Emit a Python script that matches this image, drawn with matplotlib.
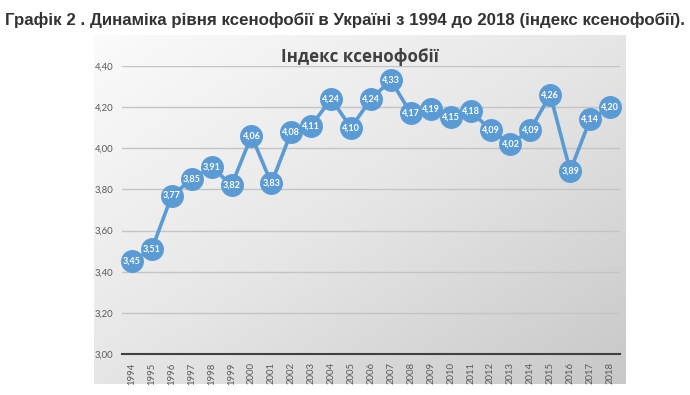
import numpy as np
import matplotlib
matplotlib.use("Agg")
import matplotlib.pyplot as plt
from matplotlib.colors import LinearSegmentedColormap

# data
years = [str(y) for y in range(1994, 2019)]
index_values = [3.45, 3.51, 3.77, 3.85, 3.91, 3.82, 4.06, 3.83, 4.08, 4.11,
                4.24, 4.10, 4.24, 4.33, 4.17, 4.19, 4.15, 4.18, 4.09, 4.02,
                4.09, 4.26, 3.89, 4.14, 4.20]
y_ticks = [3.0, 3.2, 3.4, 3.6, 3.8, 4.0, 4.2, 4.4]

W, H = 690, 395
fig = plt.figure(figsize=(W / 100, H / 100), dpi=100)
fig.patch.set_facecolor("white")

# page heading
fig.text(5 / W, 1 - 20 / H,
         "Графік 2 . Динаміка рівня ксенофобії в Україні з 1994 до 2018 (індекс ксенофобії).",
         family="Liberation Sans", weight="bold", fontsize=12.2, color="#333333",
         ha="left", va="center")

# chart panel with a diagonal grey gradient
bg = fig.add_axes([94 / W, 1 - 384 / H, (626 - 94) / W, (384 - 35) / H], zorder=0)
gx, gy = np.meshgrid(np.linspace(0, 1, 200), np.linspace(0, 1, 200))
grad = gx * 0.5 + gy * 0.5
cmap = LinearSegmentedColormap.from_list("panel", ["#fbfbfb", "#e6e6e6", "#c8c8c8"])
bg.imshow(grad, cmap=cmap, vmin=0, vmax=1, aspect="auto",
          extent=[0, 1, 0, 1], origin="upper")
bg.set_axis_off()

ax = fig.add_axes([122 / W, 1 - 354 / H, 498 / W, (354 - 66) / H], zorder=1)
ax.patch.set_alpha(0)

x = np.arange(len(years))
ax.plot(x, index_values, color="#5B9BD5", lw=2.6, marker="o", markersize=15.5,
        markerfacecolor="#5B9BD5", markeredgecolor="#5B9BD5", clip_on=False, zorder=3)
for xi, v in zip(x, index_values):
    ax.text(xi, v, f"{v:.2f}".replace(".", ","), ha="center", va="center",
            color="white", fontsize=6.5, weight="bold", family="Lato", zorder=4)

ax.set_xlim(-0.5, len(years) - 0.5)
ax.set_ylim(3.0, 4.4)
ax.set_yticks(y_ticks)
ax.set_yticklabels([f"{t:.2f}".replace(".", ",") for t in y_ticks],
                   fontsize=6.8, color="#595959", family="Lato")
ax.set_xticks(x)
ax.set_xticklabels(years, rotation=90, fontsize=6.8, color="#595959", family="Lato")
ax.tick_params(length=0, pad=6)
ax.grid(axis="y", color="#c4c4c4", lw=1)
ax.set_axisbelow(True)
for s in ["top", "right", "left"]:
    ax.spines[s].set_visible(False)
ax.spines["bottom"].set_color("#404040")
ax.spines["bottom"].set_linewidth(1.5)

# chart title
fig.text(360 / W, 1 - 57 / H, "Індекс ксенофобії", fontsize=12.2, weight="bold",
         color="#404040", family="Open Sans", ha="center", va="center", zorder=5)

plt.savefig("out.png", dpi=100)
